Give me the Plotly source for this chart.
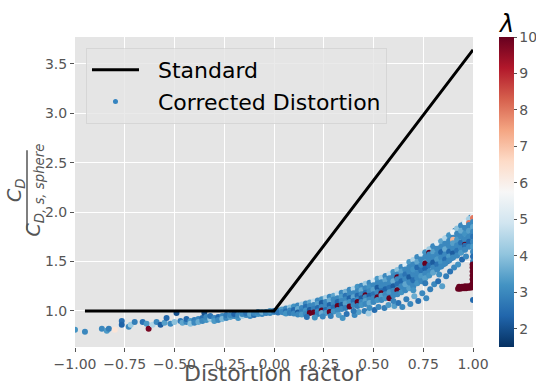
import plotly.graph_objects as go

# Reference curve: the standard drag-ratio model
std_x = [-0.95, 0.0, 1.0]
std_y = [1.0, 1.0, 3.64]

# Sparse tail and band for negative distortion factors
neg_x = [-1.0, -0.95, -0.865, -0.84, -0.83, -0.80, -0.765, -0.765, -0.73, -0.72, -0.70, -0.66,
         -0.64, -0.63, -0.61, -0.59, -0.57, -0.55, -0.54, -0.52, -0.50, -0.49, -0.47, -0.46,
         -0.44, -0.44, -0.42, -0.42, -0.40, -0.40, -0.38, -0.38, -0.36, -0.36, -0.35,
         -0.34, -0.34, -0.32, -0.32, -0.30, -0.30, -0.28, -0.28, -0.26, -0.26, -0.24, -0.24,
         -0.22, -0.22, -0.20, -0.20, -0.18, -0.18, -0.16, -0.16, -0.14, -0.14, -0.12, -0.12,
         -0.10, -0.10, -0.08, -0.08, -0.06, -0.06, -0.04, -0.04, -0.02, -0.02, 0.0, 0.0]
neg_y = [0.81, 0.79, 0.82, 0.80, 0.82, 0.81, 0.90, 0.86, 0.84, 0.86, 0.89, 0.89,
         0.87, 0.82, 0.86, 0.89, 0.86, 0.88, 0.93, 0.87, 0.89, 0.98, 0.90, 0.88,
         0.89, 0.92, 0.90, 0.87, 0.91, 0.88, 0.92, 0.89, 0.93, 0.90, 0.98,
         0.91, 0.94, 0.92, 0.95, 0.93, 0.90, 0.94, 0.91, 0.95, 0.92, 0.93, 0.96,
         0.94, 0.96, 0.95, 0.97, 0.93, 0.96, 0.95, 0.97, 0.96, 0.98, 0.95, 0.97,
         0.96, 0.98, 0.97, 0.99, 0.97, 0.99, 0.98, 0.99, 0.98, 1.00, 0.99, 1.00]
neg_lam = [3.2, 3.0, 3.0, 3.3, 2.8, 6.3, 2.5, 2.3, 3.0, 4.2, 2.8, 2.6,
           3.3, 9.8, 4.5, 3.0, 2.2, 3.4, 2.4, 3.0, 4.0, 2.0, 2.7, 3.5,
           3.0, 2.4, 3.3, 4.0, 2.8, 3.0, 3.0, 3.6, 2.5, 3.0, 2.0,
           3.2, 3.0, 4.2, 2.6, 3.0, 3.3, 2.4, 3.0, 3.0, 3.8, 3.0, 2.7,
           3.4, 3.0, 3.0, 2.3, 3.2, 3.0, 4.4, 3.0, 3.0, 2.6, 3.0, 3.5,
           2.5, 3.0, 3.2, 3.0, 3.0, 3.7, 2.8, 3.0, 3.0, 3.3, 3.0, 2.6]

# Main band for positive distortion factors, one list per x column
band_x = [0.02, 0.04, 0.06, 0.08, 0.10, 0.12, 0.14, 0.16, 0.18, 0.20,
          0.22, 0.24, 0.26, 0.28, 0.30, 0.32, 0.34, 0.36, 0.38, 0.40,
          0.42, 0.44, 0.46, 0.48, 0.50, 0.52, 0.54, 0.56, 0.58, 0.60,
          0.62, 0.64, 0.66, 0.68, 0.70, 0.72, 0.74, 0.76, 0.78, 0.80,
          0.82, 0.84, 0.86, 0.88, 0.90, 0.92, 0.94, 0.96, 0.98, 1.00]
band_y = [
    [1.00, 0.985], [1.015, 0.99], [1.025, 0.995, 0.975], [1.035, 1.005, 0.98],
    [1.045, 1.01, 0.975], [1.055, 1.02, 0.985, 0.965], [1.065, 1.03, 0.995, 0.965],
    [1.075, 1.04, 1.005, 0.97], [1.085, 1.05, 1.01, 0.98], [1.095, 1.06, 1.02, 0.985],
    [1.105, 1.07, 1.03, 0.995, 0.97], [1.12, 1.08, 1.04, 1.005, 0.98],
    [1.135, 1.09, 1.05, 1.01, 0.98], [1.145, 1.105, 1.06, 1.02, 0.99],
    [1.155, 1.115, 1.075, 1.035, 0.995], [1.175, 1.13, 1.09, 1.05, 1.01],
    [1.185, 1.145, 1.10, 1.06, 1.02], [1.195, 1.155, 1.115, 1.075, 1.03],
    [1.215, 1.17, 1.13, 1.09, 1.045], [1.225, 1.18, 1.14, 1.10, 1.06],
    [1.245, 1.20, 1.155, 1.115, 1.09, 1.05], [1.255, 1.21, 1.17, 1.13, 1.09, 1.06],
    [1.275, 1.23, 1.185, 1.16, 1.14, 1.10, 1.07], [1.285, 1.24, 1.20, 1.155, 1.115, 1.08],
    [1.305, 1.26, 1.215, 1.17, 1.13, 1.09], [1.325, 1.28, 1.235, 1.19, 1.14, 1.11],
    [1.335, 1.29, 1.25, 1.20, 1.18, 1.155, 1.11], [1.355, 1.31, 1.265, 1.22, 1.17, 1.13],
    [1.375, 1.33, 1.28, 1.235, 1.19, 1.14, 1.13], [1.395, 1.35, 1.30, 1.25, 1.205, 1.16],
    [1.415, 1.37, 1.34, 1.32, 1.27, 1.22, 1.21, 1.17], [1.445, 1.40, 1.35, 1.30, 1.25, 1.19],
    [1.465, 1.42, 1.37, 1.32, 1.27, 1.21], [1.495, 1.445, 1.395, 1.34, 1.29, 1.23],
    [1.515, 1.47, 1.42, 1.365, 1.31, 1.25], [1.545, 1.495, 1.44, 1.385, 1.33, 1.28],
    [1.575, 1.52, 1.465, 1.41, 1.355, 1.30], [1.595, 1.545, 1.49, 1.48, 1.43, 1.38, 1.33],
    [1.625, 1.59, 1.57, 1.515, 1.46, 1.40, 1.36], [1.655, 1.60, 1.545, 1.49, 1.44, 1.39],
    [1.685, 1.63, 1.575, 1.52, 1.47, 1.42], [1.705, 1.65, 1.595, 1.54, 1.49, 1.45],
    [1.735, 1.68, 1.625, 1.57, 1.52, 1.48], [1.765, 1.71, 1.655, 1.60, 1.55, 1.51],
    [1.795, 1.74, 1.72, 1.685, 1.63, 1.58, 1.54], [1.835, 1.78, 1.72, 1.665, 1.61, 1.56],
    [1.865, 1.81, 1.75, 1.69, 1.635, 1.59], [1.895, 1.84, 1.78, 1.72, 1.67, 1.66, 1.62],
    [1.93, 1.89, 1.87, 1.81, 1.75, 1.70, 1.65],
    [1.96, 1.94, 1.90, 1.85, 1.80, 1.75, 1.70, 1.65, 1.60, 1.55, 1.50],
]
band_lam = [
    [3, 2.6], [3.4, 3], [3, 2.5, 3.2], [4, 3, 2.8],
    [3.2, 2.4, 3], [3, 3.6, 2.2, 3], [4.3, 3, 2.8, 3.3],
    [3, 2.5, 3.2, 3], [3.5, 3, 2.2, 10], [4.6, 3, 2.8, 10],
    [3, 3.4, 2.4, 3, 2.8], [3.2, 2.2, 3, 10, 3.6],
    [4.4, 3, 3, 2.5, 3.3], [3, 3.6, 2.3, 3, 10],
    [3.5, 3, 3, 2.5, 3.2], [4.8, 3, 2.4, 10, 3],
    [3, 3.3, 3, 2.2, 3], [3.8, 2.6, 3, 3.4, 2.8],
    [3, 3, 2.3, 3.2, 10], [4.5, 3, 3.5, 2.5, 3],
    [3.2, 3, 2.4, 3, 10, 2.8], [3, 3.6, 3, 2.2, 3, 3.2],
    [4.2, 3, 2.5, 10, 3, 3.4, 3], [3, 3.2, 3, 2.3, 3, 3.6],
    [5.0, 3, 3.4, 2.6, 3, 3], [3.3, 3, 2.2, 3, 10, 3.2],
    [4.3, 3, 3, 2.5, 10, 3.4, 3], [3, 3.5, 3, 2.3, 3, 3.2],
    [4.7, 3, 3, 2.6, 3.3, 3, 10], [3.2, 3, 3.6, 2.2, 3, 3],
    [4, 3, 10, 3, 2.5, 3.3, 10, 3], [3, 3.4, 3, 2.4, 3, 3.2],
    [5.2, 3, 2.6, 3, 3.5, 3], [3.3, 3, 3, 2.2, 3, 3.4],
    [4.4, 3, 3.2, 3, 2.5, 3], [3, 3.5, 2.4, 3, 3, 3.2],
    [4.9, 3, 3, 2.6, 3.3, 3], [3.2, 3, 3.5, 10, 2.3, 3, 3.4],
    [4.2, 10, 3, 3, 2.5, 3, 3.2], [3, 3.4, 3, 2.2, 3, 3.5],
    [5.3, 3, 3, 3.3, 2.6, 3], [3.5, 3, 2.3, 3, 3.2, 3],
    [4.5, 3, 3.6, 3, 2.5, 3], [3.2, 3, 3, 2.4, 3.3, 3],
    [5.6, 3, 7.2, 3.4, 3, 2.2, 3], [4, 3, 3.3, 3, 2.6, 3],
    [3, 3.6, 3, 2.5, 3, 3.3], [5.4, 3, 3.2, 3, 10, 2.6, 3],
    [4.3, 8, 3, 3.4, 3, 2.4, 3],
    [5.5, 8, 3, 3.5, 3, 2.6, 3, 3.3, 3, 2.5, 3],
]

# Interleaved columns that fill the band between the main columns
mid_x = [0.03, 0.05, 0.07, 0.09, 0.11, 0.13, 0.15, 0.17, 0.19, 0.21,
         0.23, 0.25, 0.27, 0.29, 0.31, 0.33, 0.35, 0.37, 0.39, 0.41,
         0.43, 0.45, 0.47, 0.49, 0.51, 0.53, 0.55, 0.57, 0.59, 0.61,
         0.63, 0.65, 0.67, 0.69, 0.71, 0.73, 0.75, 0.77, 0.79, 0.81,
         0.83, 0.85, 0.87, 0.89, 0.91, 0.93, 0.95, 0.97, 0.99]
mid_y = [
    [1.005], [1.01, 0.985], [1.02, 0.99], [1.03, 0.995], [1.04, 1.00],
    [1.05, 1.005, 0.975], [1.06, 1.015, 0.98], [1.07, 1.025, 0.985], [1.08, 1.035, 0.99],
    [1.09, 1.045, 1.00], [1.10, 1.055, 1.01], [1.115, 1.065, 1.02], [1.13, 1.075, 1.025],
    [1.14, 1.09, 1.03], [1.15, 1.09, 1.03], [1.165, 1.105, 1.045], [1.175, 1.12, 1.055],
    [1.19, 1.13, 1.065], [1.205, 1.145, 1.08], [1.22, 1.16, 1.095], [1.235, 1.175, 1.11],
    [1.25, 1.19, 1.12], [1.265, 1.205, 1.135], [1.28, 1.22, 1.15, 1.10],
    [1.30, 1.24, 1.165, 1.12], [1.315, 1.255, 1.185, 1.13], [1.33, 1.27, 1.205, 1.145],
    [1.35, 1.29, 1.22, 1.16], [1.37, 1.305, 1.24, 1.175], [1.39, 1.325, 1.26, 1.19],
    [1.415, 1.35, 1.28, 1.21], [1.44, 1.37, 1.30, 1.225], [1.465, 1.395, 1.32, 1.245],
    [1.49, 1.415, 1.34, 1.265], [1.515, 1.44, 1.36, 1.285], [1.545, 1.465, 1.385, 1.31],
    [1.57, 1.49, 1.41, 1.335], [1.60, 1.52, 1.44, 1.36], [1.625, 1.545, 1.465, 1.39],
    [1.655, 1.575, 1.495, 1.42], [1.685, 1.60, 1.52, 1.445], [1.71, 1.63, 1.55, 1.47],
    [1.74, 1.66, 1.58, 1.50], [1.775, 1.69, 1.61, 1.53], [1.81, 1.725, 1.64, 1.56],
    [1.845, 1.76, 1.675, 1.59], [1.875, 1.79, 1.705, 1.62], [1.91, 1.825, 1.74, 1.655],
    [1.945, 1.86, 1.77, 1.685],
]
mid_lam = [
    [3], [3.3, 2.7], [3, 3.5], [2.6, 3], [3.5, 3],
    [3, 2.5, 3.2], [4, 3, 3], [3, 3.3, 2.4], [3.6, 3, 3],
    [3, 2.6, 3.4], [4.2, 3, 3], [3, 3.4, 2.5], [3.8, 3, 3],
    [3, 2.5, 3.3], [3.6, 3, 2.7], [3, 2.5, 3.3], [4.1, 3, 3],
    [3, 3.4, 2.4], [3.5, 2.6, 3], [3, 3, 3.4], [4.4, 2.4, 3],
    [3, 3.3, 2.6], [3.4, 3, 3], [4.6, 2.6, 3, 3.2],
    [3, 3.3, 2.3, 3], [3.8, 3, 3, 2.6], [3, 2.5, 3.4, 3],
    [4.5, 3, 3, 3.3], [3.3, 3, 2.4, 3], [3, 3.6, 3, 2.7],
    [5.0, 3, 2.5, 3], [3.2, 3, 3.4, 3], [4.2, 2.4, 3, 3.2],
    [3, 3.3, 3, 2.6], [4.8, 3, 2.5, 3], [3, 3.5, 3, 3],
    [4, 2.6, 3, 3.4], [5.1, 3, 3.2, 2.5], [3.3, 3, 2.6, 3],
    [4.4, 3.4, 3, 3], [3, 3, 2.4, 3.2], [5.0, 2.6, 3, 3],
    [3.4, 3, 3.3, 2.5], [4.6, 3, 2.5, 3], [3, 3.4, 3, 3.2],
    [5.3, 3, 2.6, 3], [3.6, 3, 3.2, 2.4], [4.8, 3.3, 3, 3],
    [3.2, 3, 2.6, 3.4],
]

# Scattered points below the main band
low_x = [0.165, 0.205, 0.245, 0.285, 0.325, 0.345, 0.365, 0.405, 0.425, 0.455, 0.475, 0.505,
         0.525, 0.555, 0.575, 0.605, 0.625, 0.645, 0.665, 0.685, 0.705, 0.725, 0.745, 0.765,
         0.785, 0.805, 0.825, 0.845, 0.865, 0.885, 0.905, 0.925, 0.945, 0.965, 0.70, 0.76,
         0.83, 0.60, 0.48, 0.40, 1.0]
low_y = [0.94, 0.935, 0.945, 0.95, 0.96, 0.93, 0.97, 0.96, 0.99, 1.00, 0.975, 1.01,
         1.04, 1.03, 1.06, 1.05, 1.08, 1.04, 1.12, 1.07, 1.15, 1.10, 1.18, 1.13,
         1.22, 1.27, 1.30, 1.25, 1.35, 1.40, 1.44, 1.47, 1.52, 1.55, 1.21, 1.28,
         1.37, 1.10, 1.03, 1.00, 1.11]
low_lam = [2.6, 3.2, 3.0, 2.8, 3.4, 3.2, 2.6, 3.0, 3.4, 2.8, 4.3, 2.5,
           3.0, 2.8, 3.3, 3.4, 2.6, 3.0, 2.8, 3.0, 3.6, 2.6, 3.0, 3.0,
           2.8, 3.0, 2.5, 3.4, 2.8, 2.6, 3.0, 3.2, 2.4, 3.0, 3.2, 2.7,
           3.1, 2.9, 3.1, 2.7, 2.4]

# High-lambda cluster near full distortion
red_x = [0.925, 0.935, 0.945, 0.955, 0.965, 0.975, 0.985, 0.995, 0.93, 0.945, 0.96, 0.975,
         0.99, 0.998, 0.998, 0.998, 0.998, 0.998, 0.998]
red_y = [1.225, 1.225, 1.23, 1.23, 1.23, 1.235, 1.235, 1.24, 1.245, 1.245, 1.25, 1.25,
         1.255, 1.28, 1.32, 1.36, 1.40, 1.44, 1.47]
red_lam = [10, 10, 10, 10, 10, 10, 10, 10, 10, 10, 10, 10,
           10, 10, 10, 10, 10, 10, 10]

x_ticks = [-1.0, -0.75, -0.5, -0.25, 0.0, 0.25, 0.5, 0.75, 1.0]
x_ticktext = ["\u22121.00", "\u22120.75", "\u22120.50", "\u22120.25", "0.00", "0.25", "0.50", "0.75", "1.00"]
y_ticks = [1.0, 1.5, 2.0, 2.5, 3.0, 3.5]
cb_ticks = [2, 3, 4, 5, 6, 7, 8, 9, 10]

# ColorBrewer RdBu, reversed (blue = low lambda, red = high lambda)
rdbu_r = ["#053061", "#2166ac", "#4393c3", "#92c5de", "#d1e5f0", "#f7f7f7",
          "#fddbc7", "#f4a582", "#d6604d", "#b2182b", "#67001f"]
colorscale = [[i / (len(rdbu_r) - 1), c] for i, c in enumerate(rdbu_r)]

pts_x, pts_y, pts_lam = list(neg_x), list(neg_y), list(neg_lam)
for cols_x, cols_y, cols_lam in ((mid_x, mid_y, mid_lam), (band_x, band_y, band_lam)):
    for xc, ys, ls in zip(cols_x, cols_y, cols_lam):
        for yv, lv in zip(ys, ls):
            pts_x.append(xc)
            pts_y.append(yv)
            pts_lam.append(lv)
pts_x += low_x + red_x
pts_y += low_y + red_y
pts_lam += low_lam + red_lam

GREY = "#555555"
FONT = "DejaVu Sans"
NBSP = "\u00a0"

fig = go.Figure()
fig.add_trace(go.Scatter(
    x=pts_x, y=pts_y, mode="markers", showlegend=False,
    marker=dict(
        size=6, color=pts_lam, colorscale=colorscale, cmin=1.5, cmax=10,
        line=dict(width=0), showscale=True,
        colorbar=dict(
            thickness=15, thicknessmode="pixels", len=1, lenmode="fraction",
            x=1.0653, xanchor="left", xpad=0, y=0.5, yanchor="middle", ypad=0,
            outlinewidth=0, tickvals=cb_ticks, ticks="outside", ticklen=3,
            tickcolor=GREY, tickfont=dict(family=FONT, size=14, color=GREY),
        ),
    ),
))
fig.add_trace(go.Scatter(
    x=[None], y=[None], mode="markers", name=NBSP * 2 + "Corrected Distortion",
    marker=dict(size=5, color="#3584c0"),
))
fig.add_trace(go.Scatter(
    x=std_x, y=std_y, mode="lines", name=NBSP * 2 + "Standard",
    line=dict(color="black", width=3),
))

axis_common = dict(
    showgrid=True, gridcolor="white", gridwidth=1, zeroline=False, showline=False,
    ticks="outside", ticklen=4, tickcolor=GREY,
    tickfont=dict(family=FONT, size=14, color=GREY),
)
fig.update_xaxes(range=[-1.0, 1.0], tickvals=x_ticks, ticktext=x_ticktext, **axis_common)
fig.update_yaxes(range=[0.636, 3.77], tickvals=y_ticks, ticktext=[f"{v:.1f}" for v in y_ticks], **axis_common)

fig.update_layout(
    width=536, height=385,
    margin=dict(l=75, r=63, t=37, b=38, autoexpand=False),
    paper_bgcolor="white", plot_bgcolor="#E5E5E5",
    font=dict(family=FONT, color="black"),
    legend=dict(
        x=0.0276, y=0.9645, xanchor="left", yanchor="top",
        bgcolor="rgba(229,229,229,0.8)", bordercolor="rgba(204,204,204,0.6)", borderwidth=1,
        font=dict(family=FONT, size=22, color="black"),
        traceorder="reversed", itemwidth=47,
    ),
    annotations=[
        dict(text="Distortion factor", xref="paper", yref="paper", x=0.5, y=-0.0855,
             xanchor="center", yanchor="middle", showarrow=False,
             font=dict(family=FONT, size=22, color=GREY)),
        dict(text="<i>C</i><sub><i>D</i></sub>", xref="paper", yref="paper",
             x=-0.1508, y=0.506, xanchor="center", yanchor="middle", showarrow=False,
             textangle=-90, font=dict(family=FONT, size=19, color=GREY)),
        dict(text="<i>C</i><sub><i>D, s, sphere</i></sub>", xref="paper", yref="paper",
             x=-0.102, y=0.506, xanchor="center", yanchor="middle", showarrow=False,
             textangle=-90, font=dict(family=FONT, size=19, color=GREY)),
        dict(text="<i>λ</i>", xref="paper", yref="paper", x=1.083, y=1.042,
             xanchor="center", yanchor="middle", showarrow=False,
             font=dict(family=FONT, size=24, color="black")),
    ],
    shapes=[
        dict(type="line", xref="paper", yref="paper", x0=-0.1206, x1=-0.1206,
             y0=0.377, y1=0.635, line=dict(color=GREY, width=1.5)),
    ],
)

fig.write_html("out.html")
